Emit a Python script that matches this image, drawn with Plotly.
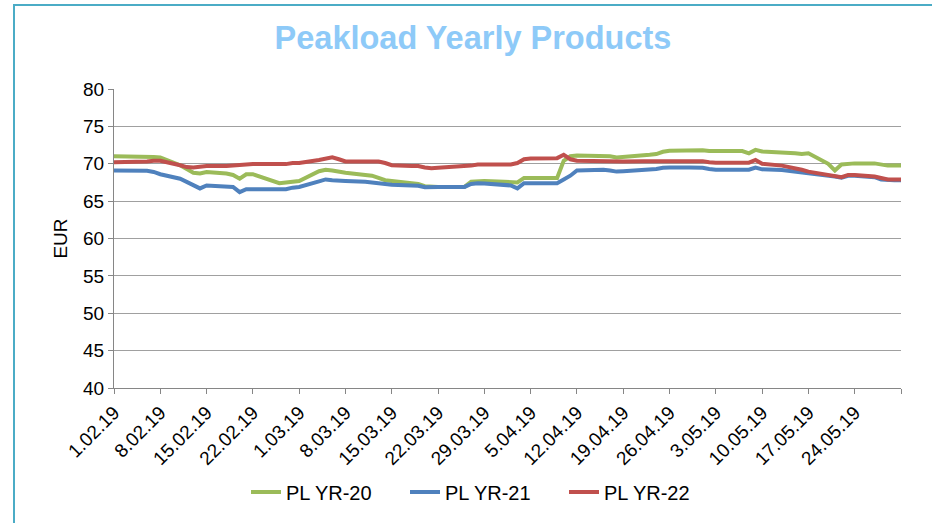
import plotly.graph_objects as go

dates = [
    "2019-02-01", "2019-02-04", "2019-02-05", "2019-02-06", "2019-02-07", "2019-02-08",
    "2019-02-11", "2019-02-12", "2019-02-13", "2019-02-14", "2019-02-15",
    "2019-02-18", "2019-02-19", "2019-02-20", "2019-02-21", "2019-02-22",
    "2019-02-25", "2019-02-26", "2019-02-27", "2019-02-28", "2019-03-01",
    "2019-03-04", "2019-03-05", "2019-03-06", "2019-03-07", "2019-03-08",
    "2019-03-11", "2019-03-12", "2019-03-13", "2019-03-14", "2019-03-15",
    "2019-03-18", "2019-03-19", "2019-03-20", "2019-03-21", "2019-03-22",
    "2019-03-25", "2019-03-26", "2019-03-27", "2019-03-28", "2019-03-29",
    "2019-04-01", "2019-04-02", "2019-04-03", "2019-04-04", "2019-04-05",
    "2019-04-08", "2019-04-09", "2019-04-10", "2019-04-11", "2019-04-12",
    "2019-04-15", "2019-04-16", "2019-04-17", "2019-04-18", "2019-04-19",
    "2019-04-22", "2019-04-23", "2019-04-24", "2019-04-25", "2019-04-26",
    "2019-04-29", "2019-04-30", "2019-05-01", "2019-05-02", "2019-05-03",
    "2019-05-06", "2019-05-07", "2019-05-08", "2019-05-09", "2019-05-10",
    "2019-05-13", "2019-05-14", "2019-05-15", "2019-05-16", "2019-05-17",
    "2019-05-20", "2019-05-21", "2019-05-22", "2019-05-23", "2019-05-24",
    "2019-05-27", "2019-05-28", "2019-05-29", "2019-05-30", "2019-05-31",
]

pl_yr_20 = [
    71.0, 71.0, 71.0, 70.95, 70.9, 70.85,
    69.8, 69.3, 68.8, 68.7, 68.9,
    68.7, 68.5, 68.0, 68.6, 68.6,
    67.8, 67.4, 67.5, 67.6, 67.7,
    69.0, 69.2, 69.1, 68.95, 68.8,
    68.5, 68.4, 68.1, 67.8, 67.7,
    67.4, 67.3, 67.0, 66.9, 66.9,
    66.9, 66.9, 67.6, 67.7, 67.7,
    67.6, 67.6, 67.5, 68.1, 68.1,
    68.1, 68.1, 70.4, 71.0, 71.1,
    71.1, 71.1, 71.0, 70.85, 70.9,
    71.05, 71.2, 71.3, 71.6, 71.75,
    71.75, 71.85, 71.8, 71.7, 71.7,
    71.7, 71.7, 71.4, 71.85, 71.65,
    71.55, 71.5, 71.4, 71.3, 71.4,
    70.0, 69.1, 69.9, 70.0, 70.05,
    70.05, 69.9, 69.75, 69.75, 69.75,
]

pl_yr_21 = [
    69.1, 69.1, 69.1, 69.05, 68.9, 68.6,
    68.0, 67.6, 67.2, 66.7, 67.1,
    67.0, 66.9, 66.2, 66.6, 66.6,
    66.6, 66.6, 66.6, 66.8, 66.9,
    67.65, 67.9, 67.8, 67.7, 67.7,
    67.6, 67.5, 67.3, 67.25, 67.2,
    67.1, 67.05, 66.85, 66.9, 66.9,
    66.9, 66.9, 67.3, 67.4, 67.35,
    67.2, 67.1, 66.7, 67.4, 67.4,
    67.4, 67.4, 67.9, 68.4, 69.1,
    69.2, 69.2, 69.1, 68.95, 69.0,
    69.1, 69.2, 69.3, 69.45, 69.5,
    69.5, 69.5, 69.45, 69.3, 69.2,
    69.2, 69.2, 69.2, 69.5, 69.25,
    69.15, 69.05, 68.95, 68.9, 68.8,
    68.45, 68.3, 68.15, 68.4, 68.4,
    68.2, 67.9, 67.8, 67.8, 67.8,
]

pl_yr_22 = [
    70.2, 70.2, 70.25, 70.3, 70.4, 70.4,
    69.8, 69.55, 69.5, 69.6, 69.7,
    69.7, 69.75, 69.8, 69.9, 69.95,
    69.95, 69.95, 69.95, 70.1, 70.1,
    70.5, 70.7, 70.85, 70.6, 70.3,
    70.3, 70.3, 70.3, 70.1, 69.8,
    69.7, 69.7, 69.5, 69.4, 69.45,
    69.55, 69.6, 69.75, 69.9, 69.9,
    69.9, 69.9, 70.1, 70.6, 70.7,
    70.7, 70.75, 71.2, 70.6, 70.4,
    70.3, 70.3, 70.3, 70.3, 70.3,
    70.35, 70.35, 70.4, 70.35, 70.3,
    70.35, 70.4, 70.35, 70.2, 70.15,
    70.15, 70.15, 70.15, 70.5, 70.0,
    69.75, 69.6, 69.4, 69.2, 68.95,
    68.5, 68.35, 68.2, 68.5, 68.5,
    68.3, 68.1, 67.9, 67.9, 67.9,
]

series_names = ["PL YR-20", "PL YR-21", "PL YR-22"]
series_colors = ["#9bbb59", "#4f81bd", "#c0504d"]

tick_dates = [
    "2019-02-01", "2019-02-08", "2019-02-15", "2019-02-22", "2019-03-01",
    "2019-03-08", "2019-03-15", "2019-03-22", "2019-03-29", "2019-04-05",
    "2019-04-12", "2019-04-19", "2019-04-26", "2019-05-03", "2019-05-10",
    "2019-05-17", "2019-05-24", "2019-05-31",
]
tick_labels = [
    "1.02.19", "8.02.19", "15.02.19", "22.02.19", "1.03.19",
    "8.03.19", "15.03.19", "22.03.19", "29.03.19", "5.04.19",
    "12.04.19", "19.04.19", "26.04.19", "3.05.19", "10.05.19",
    "17.05.19", "24.05.19", "",
]

FONT = "Arial, Liberation Sans, sans-serif"

W, H = 932, 523
L, T = 114, 89
PW, PH = 787, 299

fig = go.Figure()
for name, vals, col in zip(series_names, [pl_yr_20, pl_yr_21, pl_yr_22], series_colors):
    fig.add_trace(go.Scatter(
        x=dates, y=vals, mode="lines", name=name,
        line=dict(color=col, width=4),
    ))

fig.update_layout(
    width=W, height=H,
    margin=dict(l=L, r=W - L - PW, t=T, b=H - T - PH, pad=0),
    paper_bgcolor="white", plot_bgcolor="white",
    font=dict(family=FONT, size=19, color="black"),
    title=dict(
        text="<b>Peakload Yearly Products</b>",
        font=dict(family=FONT, size=32.5, color="#8ecaf8"),
        x=473 / W, xref="container", xanchor="center",
        y=1 - 38 / H, yref="container", yanchor="middle",
    ),
    legend=dict(
        orientation="h", x=(246 - L) / PW, xanchor="left", xref="paper",
        y=-(492 - (T + PH)) / PH, yanchor="middle",
        font=dict(family=FONT, size=20, color="black"),
        bgcolor="rgba(0,0,0,0)",
        entrywidth=114, entrywidthmode="pixels",
    ),
    showlegend=True,
    shapes=[
        dict(type="rect", xref="paper", yref="paper",
             x0=(14 - L) / PW, x1=1.3,
             y0=-0.8, y1=(T - 5) / PH + 1,
             line=dict(color="#4bacc6", width=2), fillcolor="rgba(0,0,0,0)",
             layer="below"),
    ],
)

fig.update_xaxes(
    type="date",
    range=["2019-02-01", "2019-05-31"],
    tickmode="array", tickvals=tick_dates, ticktext=tick_labels,
    tickangle=-45,
    ticks="outside", ticklen=5, tickcolor="#868686", tickwidth=1,
    showline=True, linecolor="#868686", linewidth=1,
    showgrid=False, zeroline=False,
    tickfont=dict(family=FONT, size=19, color="black"),
)
fig.update_yaxes(
    range=[40, 80], dtick=5, tick0=40,
    ticks="outside", ticklen=5, tickcolor="#868686", tickwidth=1,
    showline=True, linecolor="#868686", linewidth=1,
    showgrid=True, gridcolor="#a0a0a0", gridwidth=1,
    zeroline=False,
    title=dict(text="EUR", font=dict(family=FONT, size=19, color="black"), standoff=10),
    tickfont=dict(family=FONT, size=19, color="black"),
)

fig.write_html("out.html", config={"displayModeBar": False},
               post_script="document.body.style.margin='0';")
